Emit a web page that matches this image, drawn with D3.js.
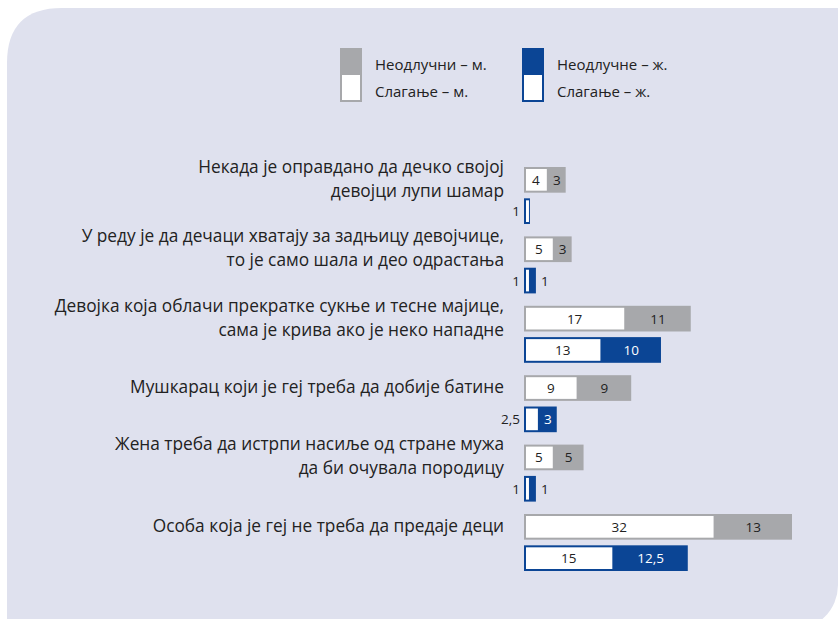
<!DOCTYPE html>
<html>
<head>
<meta charset="utf-8">
<script src="https://cdn.jsdelivr.net/npm/d3@7"></script>
<style>
  body { margin: 0; background: #fff; }
  svg { display: block; font-family: "Open Sans", sans-serif; }
</style>
</head>
<body>
<svg id="chart" width="838" height="619"></svg>
<script>
const categories = [
  ['Некада је оправдано да дечко својој', 'девојци лупи шамар'],
  ['У реду је да дечаци хватају за задњицу девојчице,', 'то је само шала и део одрастања'],
  ['Девојка која облачи прекратке сукње и тесне мајице,', 'сама је крива ако је неко нападне'],
  ['Мушкарац који је геј треба да добије батине'],
  ['Жена треба да истрпи насиље од стране мужа', 'да би очувала породицу'],
  ['Особа која је геј не треба да предаје деци']
]
const maleAgree = [4, 5, 17, 9, 5, 32]
const maleUndecided = [3, 3, 11, 9, 5, 13]
const femaleAgree = [1, 1, 13, 2.5, 1, 15]
const femaleUndecided = [0, 1, 10, 3, 1, 12.5]
const legendItems = [
  { color: '#a7a8ab', top: 'Неодлучни – м.', bottom: 'Слагање – м.' },
  { color: '#0b4595', top: 'Неодлучне – ж.', bottom: 'Слагање – ж.' }
]

const svg = d3.select('#chart')
const textColor = '#222'
const fmt = v => String(v).replace('.', ',')

// background panel
svg.append('path')
  .attr('fill', '#dfe1ee')
  .attr('d', 'M 7 630 L 7 63 Q 7 8 62 8 L 838 8 L 838 585 A 45 45 0 0 1 793 630 Z')

// legend
const legend = svg.selectAll('g.legend')
  .data(legendItems)
  .join('g')
  .attr('class', 'legend')
  .attr('transform', (d, i) => `translate(${i === 0 ? 340 : 522},48)`)

legend.append('rect')
  .attr('width', 22).attr('height', 54)
  .attr('fill', d => d.color)
legend.append('rect')
  .attr('x', 2).attr('y', 27).attr('width', 18).attr('height', 25)
  .attr('fill', '#fff')
legend.append('text')
  .attr('x', 35).attr('y', 22)
  .attr('font-size', 15).attr('fill', textColor)
  .text(d => d.top)
legend.append('text')
  .attr('x', 35).attr('y', 49)
  .attr('font-size', 15).attr('fill', textColor)
  .text(d => d.bottom)

// scales
const x0 = 524
const x = d3.scaleLinear().domain([0, 45]).range([0, 268])
const y = d3.scaleBand().domain(d3.range(categories.length)).range([160, 576.4])
const sub = d3.scaleBand().domain(['m', 'f']).range([7, 64]).paddingInner(0.18)

const series = [
  { key: 'm', agree: maleAgree, undecided: maleUndecided, color: '#a7a8ab', dark: textColor },
  { key: 'f', agree: femaleAgree, undecided: femaleUndecided, color: '#0b4595', dark: '#fff' }
]

const groups = svg.selectAll('g.group')
  .data(categories)
  .join('g')
  .attr('class', 'group')
  .attr('transform', (d, i) => `translate(0,${y(i)})`)

// category labels
groups.append('text')
  .attr('text-anchor', 'end')
  .attr('font-size', 17.3)
  .attr('fill', textColor)
  .each(function (lines) {
    const cy = sub('m') + sub.bandwidth() / 2 - 1
    const t = d3.select(this)
    lines.forEach((line, j) => {
      t.append('tspan')
        .attr('x', 504)
        .attr('y', cy + (j - (lines.length - 1) / 2) * 24 + 6)
        .text(line)
    })
  })

const minInside = 16

series.forEach(s => {
  const bars = groups.append('g')
    .attr('transform', `translate(${x0},${sub(s.key)})`)
  const h = sub.bandwidth()

  bars.append('rect')
    .attr('width', (d, i) => x(s.agree[i] + s.undecided[i]))
    .attr('height', h)
    .attr('fill', s.color)
  bars.append('rect')
    .attr('x', 2).attr('y', 2)
    .attr('width', (d, i) => Math.max(0, x(s.agree[i]) - 3))
    .attr('height', h - 4)
    .attr('fill', '#fff')

  // agree value
  bars.append('text')
    .attr('font-size', 13.5)
    .attr('fill', textColor)
    .attr('y', h / 2 + 5)
    .each(function (d, i) {
      const w = x(s.agree[i])
      const t = d3.select(this).text(fmt(s.agree[i]))
      if (w >= minInside) t.attr('x', w / 2).attr('text-anchor', 'middle')
      else t.attr('x', -4).attr('text-anchor', 'end')
    })

  // undecided value
  bars.append('text')
    .attr('font-size', 13.5)
    .attr('y', h / 2 + 5)
    .each(function (d, i) {
      const v = s.undecided[i]
      if (!v) return
      const a = x(s.agree[i])
      const w = x(v)
      const t = d3.select(this).text(fmt(v))
      if (w >= minInside) t.attr('x', a + w / 2).attr('text-anchor', 'middle').attr('fill', s.dark)
      else t.attr('x', a + w + 5).attr('text-anchor', 'start').attr('fill', textColor)
    })
})
</script>
</body>
</html>
